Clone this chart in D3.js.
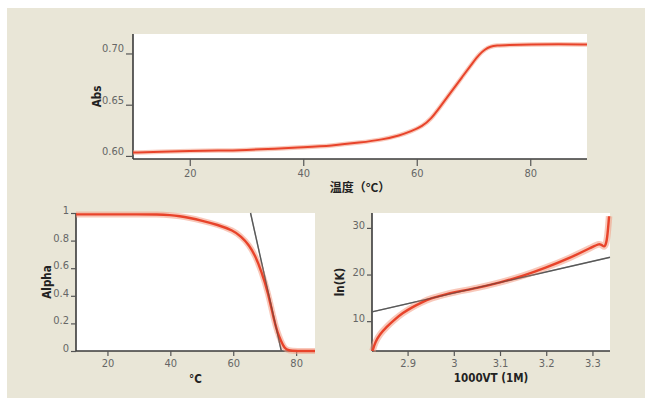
<!DOCTYPE html>
<html>
<head>
<meta charset="utf-8">
<script src="https://d3js.org/d3.v7.min.js"></script>
<style>
  body { margin: 0; background: #fff; }
  .tick text { font-family: "Liberation Sans Narrow", "DejaVu Sans Condensed", sans-serif; font-size: 11px; fill: #666; }
  .domain { stroke: #3a3a3a; stroke-width: 1.6px; }
  .tick line { stroke: #555; stroke-width: 1.2px; }
  .ttl { font-family: "Liberation Sans Narrow", "DejaVu Sans Condensed", "Noto Sans CJK SC", sans-serif; font-weight: bold; font-size: 11.5px; fill: #222; }
  .cjk { font-family: "Noto Sans CJK SC", sans-serif; font-size: 12px; }
</style>
</head>
<body>
<div id="chart"></div>
<script>
// top chart: absorbance vs temperature
var absTemp = [10, 15, 20, 25, 30, 35, 40, 45, 50, 54, 57, 59, 61, 62.5, 64, 66, 68, 70, 71, 72, 73, 74, 76, 80, 85, 90];
var absVal  = [0.6033, 0.604, 0.605, 0.6052, 0.6058, 0.607, 0.6085, 0.610, 0.613, 0.616, 0.620, 0.624, 0.629, 0.636, 0.647, 0.662, 0.677, 0.692, 0.699, 0.704, 0.7068, 0.7078, 0.7083, 0.7088, 0.709, 0.7088];
var absYTicks = [0.60, 0.65, 0.70];
var absXTicks = [20, 40, 60, 80];

// bottom left: alpha vs temperature
var alphaTemp = [10, 20, 30, 36, 40, 43, 46, 50, 55, 60, 62.5, 65, 67, 69, 71, 73, 74, 75.3, 76.3, 77.5, 80, 86];
var alphaVal  = [0.99, 0.99, 0.99, 0.99, 0.985, 0.977, 0.965, 0.945, 0.915, 0.873, 0.83, 0.77, 0.69, 0.575, 0.43, 0.22, 0.14, 0.065, 0.02, 0.003, 0, 0];
var alphaFitT = [65.5, 75.3];
var alphaFitA = [1, 0];
var alphaYTicks = [0, 0.2, 0.4, 0.6, 0.8, 1];
var alphaXTicks = [20, 40, 60, 80];

// bottom right: ln(K) vs 1000/T
var invT = [2.824, 2.83, 2.84, 2.855, 2.87, 2.89, 2.91, 2.93, 2.95, 2.98, 3.0, 3.05, 3.1, 3.15, 3.2, 3.25, 3.3, 3.315, 3.322, 3.327, 3.332, 3.336];
var lnK  = [3.6, 5.5, 7.2, 8.8, 10.2, 11.8, 13.0, 14.0, 14.9, 15.7, 16.2, 17.1, 18.3, 19.7, 21.5, 23.5, 25.9, 26.7, 26.2, 25.8, 27.5, 32.5];
var lnFitX = [2.823, 3.338];
var lnFitY = [12.0, 23.7];
var lnYTicks = [10, 20, 30];
var lnXTicks = [2.9, 3.0, 3.1, 3.2, 3.3];

var W = 645, H = 398;
var svg = d3.select("#chart").append("svg").attr("width", W).attr("height", H);

svg.append("rect").attr("x", 7).attr("y", 8).attr("width", W - 7).attr("height", H - 8).attr("fill", "#e9e6d7");

function panel(o) {
  var g = svg.append("g");
  var x = d3.scaleLinear().domain(o.xd).range([o.l, o.r]);
  var y = d3.scaleLinear().domain(o.yd).range([o.b, o.t]);
  g.append("rect").attr("x", o.l).attr("y", o.t).attr("width", o.r - o.l).attr("height", o.b - o.t).attr("fill", "#fff");

  var ya = g.append("g").attr("transform", "translate(" + o.l + ",0)")
    .call(d3.axisLeft(y).tickValues(o.yt).tickFormat(o.yf).tickSize(o.ts).tickSizeOuter(0).tickPadding(2));
  ya.selectAll(".tick text").attr("dy", o.ydy);
  ya.select(".domain").attr("d", "M0," + o.t + "V" + o.b);
  var xa = g.append("g").attr("transform", "translate(0," + o.b + ")")
    .call(d3.axisBottom(x).tickValues(o.xt).tickFormat(o.xf).tickSize(o.xs).tickSizeOuter(0).tickPadding(3));
  xa.select(".domain").attr("d", "M" + o.l + ",0H" + o.r);

  var pts = o.xs_.map(function(d, i) { return [d, o.ys_[i]]; });
  var line = d3.line().x(function(d) { return x(d[0]); }).y(function(d) { return y(d[1]); }).curve(d3.curveBasis);
  var straight = d3.line().x(function(d) { return x(d[0]); }).y(function(d) { return y(d[1]); });
  var fp = o.fit ? o.fit[0].map(function(d, i) { return [d, o.fit[1][i]]; }) : null;
  if (fp) {
    g.append("path").attr("d", straight(fp)).attr("stroke", "#707070").attr("stroke-width", 1.4).attr("fill", "none");
  }
  g.append("path").attr("d", line(pts)).attr("stroke", "#f39a82").attr("stroke-opacity", 0.55)
    .attr("stroke-width", o.halo).attr("fill", "none").attr("stroke-linejoin", "round");
  g.append("path").attr("d", line(pts)).attr("stroke", "#e8432a")
    .attr("stroke-width", o.core).attr("fill", "none").attr("stroke-linejoin", "round");
  if (fp) {
    g.append("path").attr("d", straight(fp)).attr("stroke", "#444").attr("stroke-opacity", 0.55)
      .attr("stroke-width", 1.2).attr("fill", "none");
  }

  g.append("text").attr("class", "ttl").attr("text-anchor", "middle")
    .attr("transform", "translate(" + o.ylx + "," + ((o.t + o.b) / 2) + ") rotate(-90)").text(o.ylab);
  g.append("text").attr("class", "ttl" + (o.cjk ? " cjk" : "")).attr("text-anchor", "middle")
    .attr("x", (o.l + o.r) / 2).attr("y", o.xly).text(o.xlab);
}

panel({
  l: 133, r: 587, t: 34, b: 159, xd: [10, 90], yd: [0.597, 0.719],
  xt: absXTicks, yt: absYTicks, xf: d3.format("d"), yf: d3.format(".2f"),
  ts: 7, xs: 7, ydy: "-0.15em",
  xs_: absTemp, ys_: absVal, halo: 4.5, core: 2,
  ylab: "Abs", ylx: 101, xlab: "温度（°C）", xly: 192, cjk: true
});

panel({
  l: 76, r: 315, t: 213, b: 351, xd: [10, 86], yd: [0, 1],
  xt: alphaXTicks, yt: alphaYTicks, xf: d3.format("d"), yf: function(d) { return d3.format("~g")(d); },
  ts: 5, xs: 5, ydy: "0.05em",
  xs_: alphaTemp, ys_: alphaVal, halo: 6, core: 2.4,
  fit: [alphaFitT, alphaFitA],
  ylab: "Alpha", ylx: 51, xlab: "°C", xly: 383
});

panel({
  l: 372, r: 610, t: 213, b: 351, xd: [2.823, 3.338], yd: [3.6, 33.2],
  xt: lnXTicks, yt: lnYTicks, xf: function(d) { return d3.format("~g")(d); }, yf: d3.format("d"),
  ts: 5, xs: 5, ydy: "0.05em",
  xs_: invT, ys_: lnK, halo: 6.5, core: 2.4,
  fit: [lnFitX, lnFitY],
  ylab: "ln(K)", ylx: 344, xlab: "1000VT (1M)", xly: 382
});
</script>
</body>
</html>
